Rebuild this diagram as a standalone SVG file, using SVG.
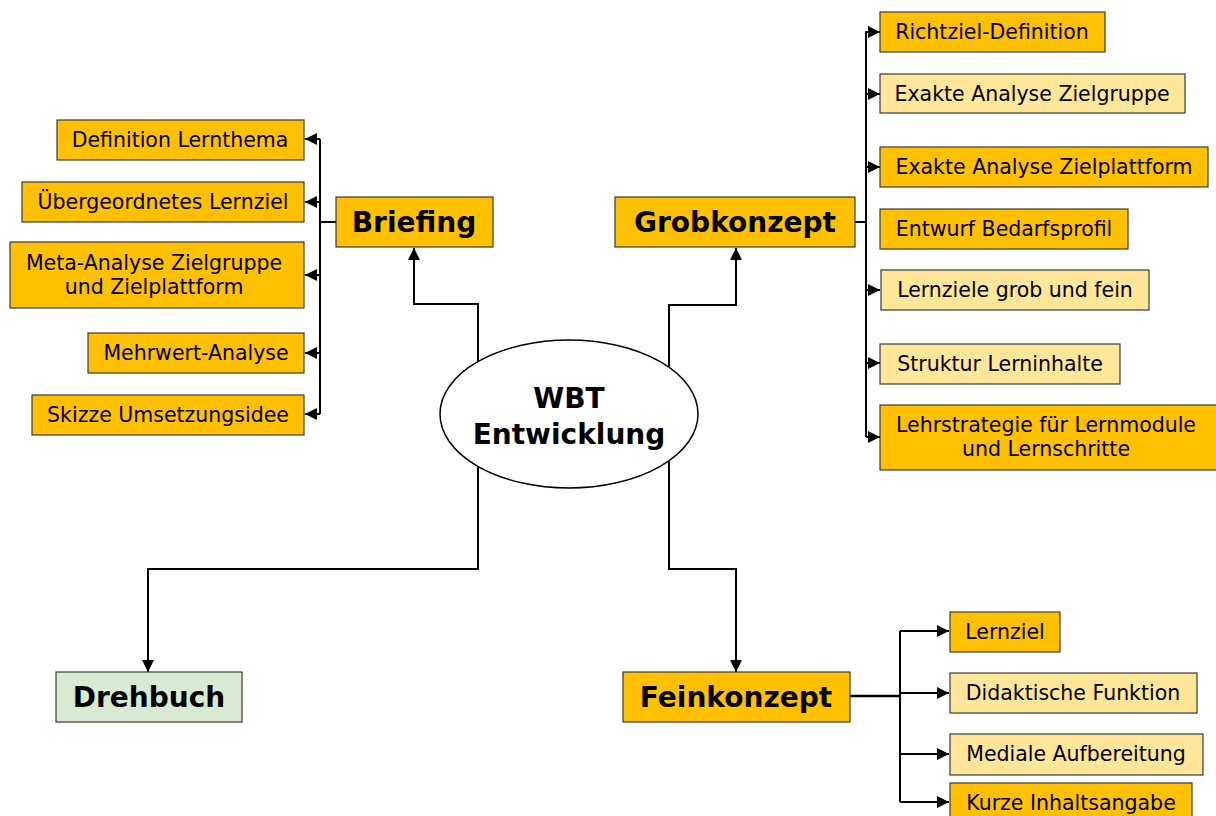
<svg xmlns="http://www.w3.org/2000/svg" width="1216" height="816" viewBox="0 0 1216 816">
<style>
.box{stroke:#3a3a3a;stroke-width:1.2}
.o{fill:#FFC000}
.l{fill:#FFE699}
.g{fill:#D9EAD3}
.t{font-family:"DejaVu Sans",Verdana,sans-serif;font-size:20.5px;fill:#000;text-anchor:middle;dominant-baseline:central}
.b{font-family:"DejaVu Sans",Verdana,sans-serif;font-size:28px;font-weight:bold;fill:#000;text-anchor:middle;dominant-baseline:central}
.c{fill:none;stroke:#000;stroke-width:2}
</style>
<defs>
<marker id="ah" viewBox="0 0 12 12" refX="12" refY="6" markerWidth="12" markerHeight="12" markerUnits="userSpaceOnUse" orient="auto">
<path d="M0,0 L12,6 L0,12 Z" fill="#000"/>
</marker>
<marker id="as" viewBox="0 0 12 12" refX="12" refY="6" markerWidth="12" markerHeight="12" markerUnits="userSpaceOnUse" orient="auto">
<path d="M0,0 L12,6 L0,12 Z" fill="#000"/>
</marker>
</defs>
<rect width="1216" height="816" fill="#fff"/>

<g id="connectors">
<path class="c" d="M478,400 V304 H414 V248" marker-end="url(#ah)"/>
<path class="c" d="M669,400 V305 H736 V248" marker-end="url(#ah)"/>
<path class="c" d="M478,420 V569 H148 V672" marker-end="url(#ah)"/>
<path class="c" d="M669,420 V569 H736 V672" marker-end="url(#ah)"/>

<path class="c" d="M336,222 H320"/>
<path class="c" d="M320,139 V414"/>
<path class="c" d="M320,139 H305" marker-end="url(#as)"/>
<path class="c" d="M320,202 H305" marker-end="url(#as)"/>
<path class="c" d="M320,275 H305" marker-end="url(#as)"/>
<path class="c" d="M320,353 H305" marker-end="url(#as)"/>
<path class="c" d="M320,414 H305" marker-end="url(#as)"/>

<path class="c" d="M855,222 H866"/>
<path class="c" d="M866,31 V437"/>
<path class="c" d="M866,32 H880" marker-end="url(#as)"/>
<path class="c" d="M866,94 H880" marker-end="url(#as)"/>
<path class="c" d="M866,167 H880" marker-end="url(#as)"/>
<path class="c" d="M866,290 H880" marker-end="url(#as)"/>
<path class="c" d="M866,363 H880" marker-end="url(#as)"/>
<path class="c" d="M866,437 H880" marker-end="url(#as)"/>

<path class="c" d="M850,696 H900" style="stroke-width:2.5"/>
<path class="c" d="M900,631 V802"/>
<path class="c" d="M900,631 H949" marker-end="url(#ah)"/>
<path class="c" d="M900,693 H949" marker-end="url(#ah)"/>
<path class="c" d="M900,754 H949" marker-end="url(#ah)"/>
<path class="c" d="M900,802 H949" marker-end="url(#ah)"/>
</g>

<g id="center">
<ellipse cx="569" cy="414" rx="129" ry="74" fill="#fff" stroke="#000" stroke-width="1.5"/>
<text class="b" x="569" y="398">WBT</text>
<text class="b" x="569" y="434">Entwicklung</text>
</g>

<g id="briefing"><rect class="box o" x="336" y="197" width="157" height="50"/><text class="b" x="414" y="222">Briefing</text></g>
<g id="grobkonzept"><rect class="box o" x="615" y="197" width="240" height="50"/><text class="b" x="735" y="222">Grobkonzept</text></g>
<g id="feinkonzept"><rect class="box o" x="623" y="672" width="227" height="50"/><text class="b" x="736" y="697">Feinkonzept</text></g>
<g id="drehbuch"><rect class="box g" x="56" y="672" width="186" height="50"/><text class="b" x="149" y="697">Drehbuch</text></g>

<g id="b1"><rect class="box o" x="57" y="120" width="247" height="40"/><text class="t" x="180" y="140">Definition Lernthema</text></g>
<g id="b2"><rect class="box o" x="22" y="182" width="282" height="40"/><text class="t" x="163" y="202">Übergeordnetes Lernziel</text></g>
<g id="b3"><rect class="box o" x="10" y="242" width="294" height="66"/><text class="t" x="154" y="263">Meta-Analyse Zielgruppe</text><text class="t" x="154" y="287">und Zielplattform</text></g>
<g id="b4"><rect class="box o" x="88" y="333" width="216" height="40"/><text class="t" x="196" y="353">Mehrwert-Analyse</text></g>
<g id="b5"><rect class="box o" x="32" y="395" width="272" height="40"/><text class="t" x="168" y="415">Skizze Umsetzungsidee</text></g>

<g id="g1"><rect class="box o" x="880" y="12" width="225" height="40"/><text class="t" x="992" y="32">Richtziel-Definition</text></g>
<g id="g2"><rect class="box l" x="880" y="74" width="305" height="39"/><text class="t" x="1032" y="94">Exakte Analyse Zielgruppe</text></g>
<g id="g3"><rect class="box o" x="880" y="147" width="328" height="40"/><text class="t" x="1044" y="167">Exakte Analyse Zielplattform</text></g>
<g id="g4"><rect class="box o" x="880" y="209" width="248" height="40"/><text class="t" x="1004" y="229">Entwurf Bedarfsprofil</text></g>
<g id="g5"><rect class="box l" x="881" y="270" width="268" height="40"/><text class="t" x="1015" y="290">Lernziele grob und fein</text></g>
<g id="g6"><rect class="box l" x="880" y="344" width="240" height="40"/><text class="t" x="1000" y="364">Struktur Lerninhalte</text></g>
<g id="g7"><rect class="box o" x="880" y="405" width="340" height="65"/><text class="t" x="1046" y="425">Lehrstrategie für Lernmodule</text><text class="t" x="1046" y="449">und Lernschritte</text></g>

<g id="f1"><rect class="box o" x="950" y="612" width="110" height="40"/><text class="t" x="1005" y="632">Lernziel</text></g>
<g id="f2"><rect class="box l" x="950" y="673" width="247" height="40"/><text class="t" x="1073" y="693">Didaktische Funktion</text></g>
<g id="f3"><rect class="box l" x="950" y="734" width="253" height="41"/><text class="t" x="1076" y="754">Mediale Aufbereitung</text></g>
<g id="f4"><rect class="box o" x="950" y="783" width="242" height="40"/><text class="t" x="1071" y="803">Kurze Inhaltsangabe</text></g>
</svg>
